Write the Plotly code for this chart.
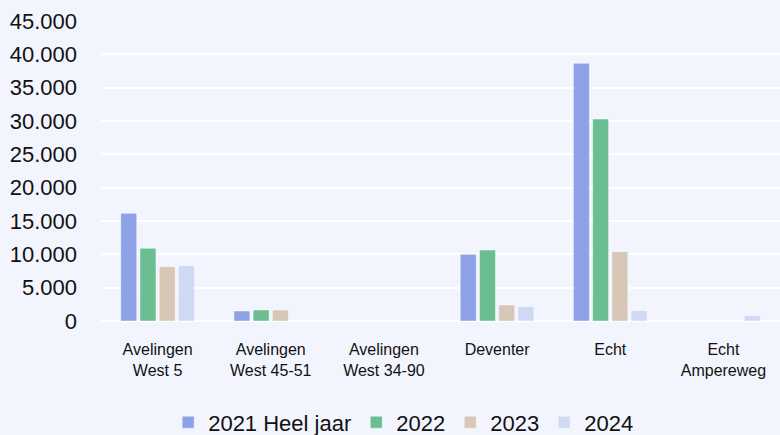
import plotly.graph_objects as go

categories = ["Avelingen<br>West 5", "Avelingen<br>West 45-51", "Avelingen<br>West 34-90",
              "Deventer", "Echt", "Echt<br>Ampereweg"]
series_names = ["2021 Heel jaar", "2022", "2023", "2024"]
v2021 = [16150, 1500, None, 10000, 38650, None]
v2022 = [10900, 1650, None, 10650, 30300, None]
v2023 = [8150, 1650, None, 2400, 10400, None]
v2024 = [8300, None, None, 2150, 1550, 800]
colors = ["#8FA1E6", "#6BBE91", "#D6C7B6", "#D0D9F4"]
tick_vals = [0, 5000, 10000, 15000, 20000, 25000, 30000, 35000, 40000, 45000]
tick_text = ["0", "5.000", "10.000", "15.000", "20.000", "25.000", "30.000", "35.000", "40.000", "45.000"]

bg = "#F2F5FE"
fig = go.Figure()
for name, vals, col in zip(series_names, [v2021, v2022, v2023, v2024], colors):
    fig.add_trace(go.Bar(x=categories, y=vals, name=name,
                         marker=dict(color=col, line=dict(color="rgba(255,255,255,0.45)", width=1))))

fig.update_layout(
    width=780, height=435,
    paper_bgcolor=bg, plot_bgcolor=bg,
    margin=dict(l=101, r=0, t=21, b=114, autoexpand=False),
    barmode="group", bargap=0.32, bargroupgap=0.17,
    font=dict(family="Liberation Sans", color="#111111"),
    showlegend=True,
    legend=dict(orientation="h", x=0.445, xanchor="center", y=-0.338, yanchor="middle",
                font=dict(size=22, family="Liberation Sans"), bgcolor="rgba(0,0,0,0)",
                itemwidth=30, tracegroupgap=0),
    xaxis=dict(showgrid=False, showline=False, zeroline=False, automargin=False,
               ticks="outside", ticklen=14, tickcolor="rgba(0,0,0,0)",
               tickfont=dict(size=16, family="Liberation Sans")),
    yaxis=dict(range=[0, 45000], tickvals=tick_vals, ticktext=tick_text, automargin=False,
               showgrid=True, gridcolor="#FFFFFF", gridwidth=1.5,
               zeroline=True, zerolinecolor="#FFFFFF", zerolinewidth=1.5,
               showline=False, ticks="", ticklabelstandoff=23,
               tickfont=dict(size=22, family="Liberation Sans")),
)
fig.write_html("out.html", config={"displayModeBar": False},
               post_script="document.body.style.margin='0';document.body.style.background='%s';" % bg)
